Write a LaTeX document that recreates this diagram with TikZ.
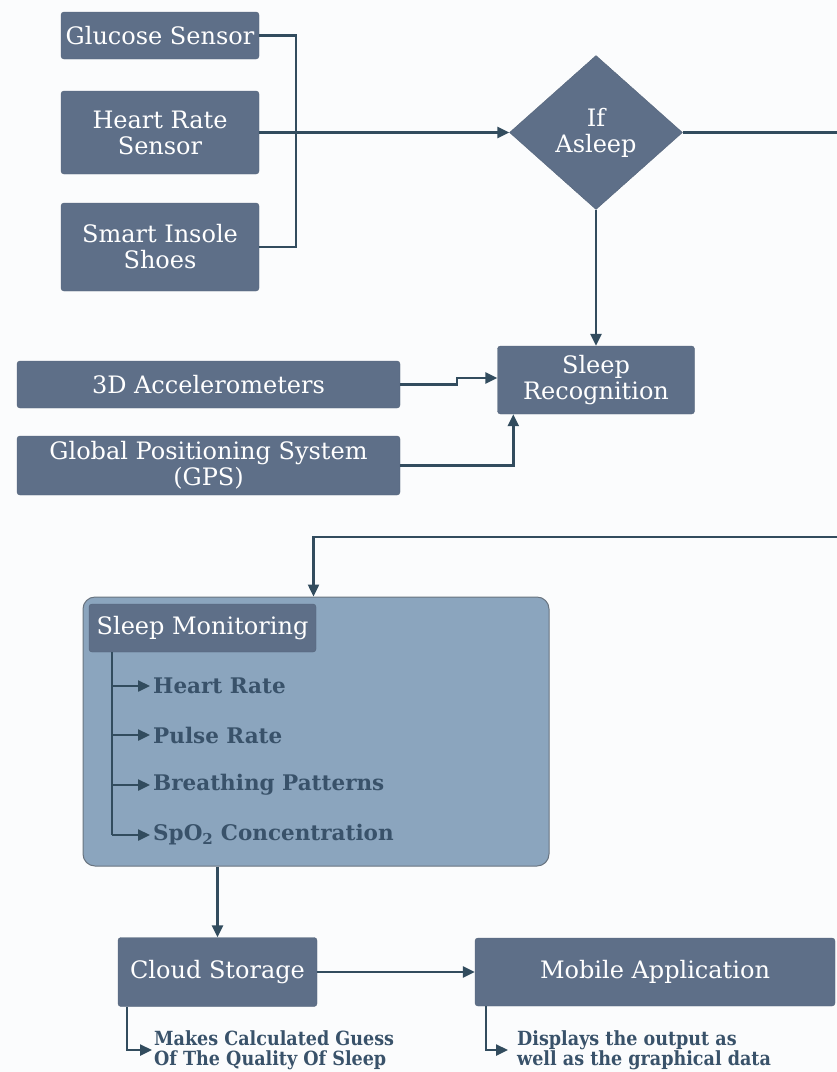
\documentclass[tikz,border=0pt]{standalone}
\usepackage{fontspec}
\setmainfont{DejaVu Serif}
\newfontfamily\notefont[FakeStretch=0.9]{DejaVu Serif}
\usetikzlibrary{shapes.geometric,arrows.meta}
\definecolor{bgcol}{RGB}{251,252,253}
\definecolor{boxfill}{RGB}{94,111,136}
\definecolor{boxedge}{RGB}{84,100,122}
\definecolor{panelfill}{RGB}{139,165,190}
\definecolor{paneledge}{RGB}{105,116,128}
\definecolor{linecol}{RGB}{50,76,94}
\definecolor{itemcol}{RGB}{57,82,106}

\begin{document}
\begin{tikzpicture}[x=1pt,y=-1pt,
    box/.style={draw=boxedge,fill=boxfill,rounded corners=3pt,text=white,align=center,
        inner sep=0pt,font=\fontsize{24}{26}\selectfont},
    decision/.style={diamond,draw=boxedge,fill=boxfill,text=white,align=center,inner sep=0pt,
        minimum width=173pt,minimum height=154pt,font=\fontsize{24}{26}\selectfont},
    panel/.style={draw=paneledge,fill=panelfill,rounded corners=12pt,line width=1pt},
    item/.style={anchor=west,text=itemcol,inner sep=3pt,font=\fontsize{21.5}{24}\selectfont\bfseries},
    note/.style={anchor=west,align=left,text=itemcol,inner sep=2pt,font=\notefont\fontsize{19.5}{20}\selectfont\bfseries},
    line/.style={draw=linecol,line width=2.4pt},
    link/.style={line,-{Triangle[length=12pt,width=11pt]}}]
    \fill[bgcol] (0,0) rectangle (837,1072);
    \useasboundingbox (0,0) rectangle (837,1072);

    % sensors
    \node[box,minimum width=198pt,minimum height=47pt] (glucose) at (160,35.5) {Glucose Sensor};
    \node[box,minimum width=198pt,minimum height=83pt] (heart) at (160,132.5) {Heart Rate\\Sensor};
    \node[box,minimum width=198pt,minimum height=88pt] (insole) at (160,247) {Smart Insole\\Shoes};
    \node[decision] (asleep) at (596,132.5) {If\\Asleep};
    \node[box,minimum width=197pt,minimum height=68pt] (recog) at (596,380) {Sleep\\Recognition};
    \node[box,minimum width=383pt,minimum height=47pt] (accel) at (208.5,384.5) {3D Accelerometers};
    \node[box,minimum width=383pt,minimum height=59pt] (gps) at (208.5,465.5)
        {Global Positioning System\\(GPS)};

    \draw[line] (glucose.east) -- ++(37,0) |- (insole.east);
    \draw[link] (heart.east) -- (asleep.west);
    \draw[link] (asleep.south) -- (recog.north);
    \draw[link] (accel.east) -- ++(57,0) |- ([yshift=2pt]recog.west);
    \draw[link] (gps.east) -| ([xshift=16pt]recog.south west);

    % monitoring
    \node[panel,minimum width=466pt,minimum height=269pt] (panel) at (316,731.5) {};
    \node[box,minimum width=227pt,minimum height=48pt] (header) at (202.5,628) {Sleep Monitoring};
    \coordinate (trunk) at ([xshift=23pt]header.south west);
    \foreach \name/\ypos/\txt in {hr/686/Heart Rate,pulse/735/Pulse Rate,
        breath/785/Breathing Patterns,spo/835/{SpO\textsubscript{2} Concentration}} {
        \node[item] (\name) at (150,\ypos) {\txt};
        \draw[link] (trunk |- \name.west) -- (\name.west);
    }
    \draw[line] (trunk) -- (trunk |- spo.west);
    \draw[link] (asleep.east) -- (880,132.5) -- (880,537) -| ([xshift=231pt]panel.north west);

    % output
    \node[box,minimum width=199pt,minimum height=69pt] (cloud) at (217.5,972) {Cloud Storage};
    \node[box,minimum width=360pt,minimum height=68pt] (mobile) at (655,972) {Mobile Application};
    \node[note] (guess) at (152,1050) {Makes Calculated Guess\\Of The Quality Of Sleep};
    \node[note,inner xsep=9pt] (shows) at (508,1050) {Displays the output as\\well as the graphical data};

    \draw[link] (cloud.north |- panel.south) -- (cloud.north);
    \draw[link] (cloud) -- (mobile);
    \draw[link] ([xshift=9pt]cloud.south west) |- (guess.west);
    \draw[link] ([xshift=11pt]mobile.south west) |- (shows.west);
\end{tikzpicture}
\end{document}
